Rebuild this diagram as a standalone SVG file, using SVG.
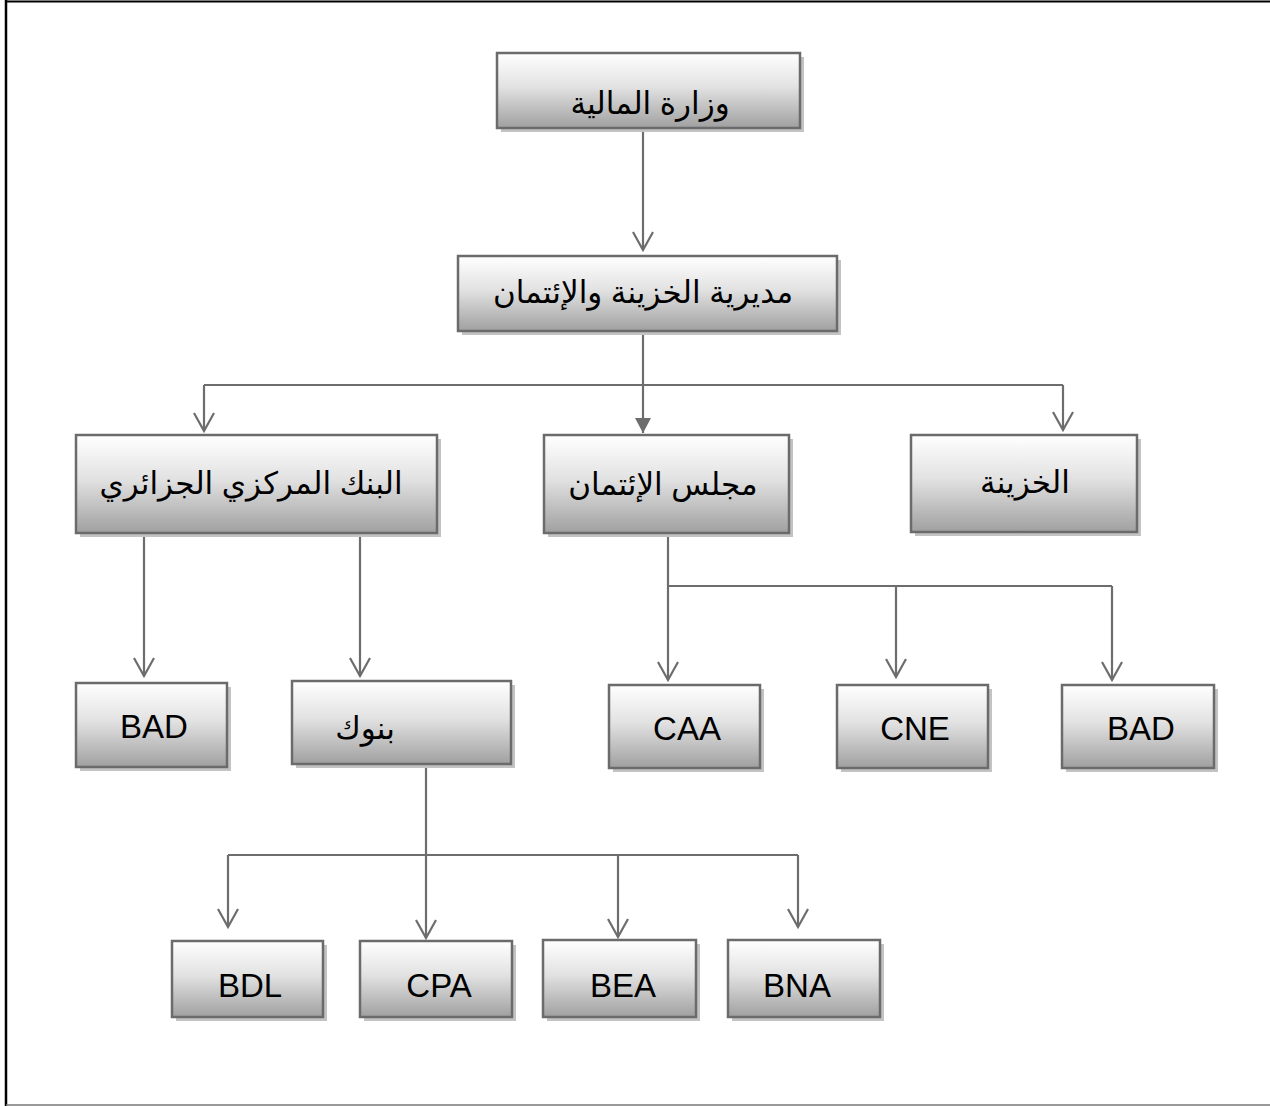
<svg xmlns="http://www.w3.org/2000/svg" width="1270" height="1106" viewBox="0 0 1270 1106">
<defs>
<linearGradient id="g" x1="0" y1="0" x2="0" y2="1">
<stop offset="0" stop-color="#ffffff"/>
<stop offset="0.45" stop-color="#e2e2e2"/>
<stop offset="1" stop-color="#a0a0a0"/>
</linearGradient>
<marker id="v" viewBox="-20 -12 22 24" refX="0" refY="0" markerWidth="22" markerHeight="24" markerUnits="userSpaceOnUse" orient="auto">
<path d="M-18,-10 L0,0 L-18,10" fill="none" stroke="#6d6d6d" stroke-width="2.2"/>
</marker>
<marker id="t" viewBox="-17 -9 18 18" refX="0" refY="0" markerWidth="18" markerHeight="18" markerUnits="userSpaceOnUse" orient="auto">
<path d="M-15,-8 L-15,8 L0,0 Z" fill="#6d6d6d"/>
</marker>
</defs>
<style>
.box{fill:url(#g);stroke:#6b6b6b;stroke-width:2.5}
.sh{fill:#c3c3c3}
.c{fill:none;stroke:#6d6d6d;stroke-width:2.2}
.ar{font-family:"Liberation Sans","DejaVu Sans",sans-serif;font-size:31px;fill:#000;text-anchor:middle}
.la{font-family:"Liberation Sans","DejaVu Sans",sans-serif;font-size:33px;fill:#000;text-anchor:middle}
</style>
<rect width="1270" height="1106" fill="#ffffff"/>
<line x1="6" y1="0" x2="6" y2="1106" stroke="#000" stroke-width="2.5"/>
<line x1="6" y1="1.5" x2="1270" y2="1.5" stroke="#000" stroke-width="2"/>
<line x1="6" y1="1105" x2="1270" y2="1105" stroke="#777" stroke-width="1.5"/>

<g id="connectors">
<path class="c" d="M643,129 V250" marker-end="url(#v)"/>
<path class="c" d="M643,331 V433" marker-end="url(#t)"/>
<path class="c" d="M204,385 H1063"/>
<path class="c" d="M204,385 V431" marker-end="url(#v)"/>
<path class="c" d="M1063,385 V430" marker-end="url(#v)"/>
<path class="c" d="M144,533 V676" marker-end="url(#v)"/>
<path class="c" d="M360,533 V676" marker-end="url(#v)"/>
<path class="c" d="M668,533 V680" marker-end="url(#v)"/>
<path class="c" d="M668,586 H1112"/>
<path class="c" d="M896,586 V677" marker-end="url(#v)"/>
<path class="c" d="M1112,586 V680" marker-end="url(#v)"/>
<path class="c" d="M426,764 V938" marker-end="url(#v)"/>
<path class="c" d="M228,855 H798"/>
<path class="c" d="M228,855 V927" marker-end="url(#v)"/>
<path class="c" d="M618,855 V937" marker-end="url(#v)"/>
<path class="c" d="M798,855 V927" marker-end="url(#v)"/>
</g>

<g id="n-wizara">
<rect class="sh" x="501" y="57" width="303" height="75"/>
<rect class="box" x="497" y="53" width="303" height="75"/>
<text class="ar" x="650" y="114" direction="rtl">وزارة المالية</text>
</g>
<g id="n-mudiriya">
<rect class="sh" x="462" y="260" width="379" height="75"/>
<rect class="box" x="458" y="256" width="379" height="75"/>
<text class="ar" x="643" y="303" direction="rtl">مديرية الخزينة والإئتمان</text>
</g>
<g id="n-bank-central">
<rect class="sh" x="80" y="439" width="361" height="98"/>
<rect class="box" x="76" y="435" width="361" height="98"/>
<text class="ar" x="251" y="494" direction="rtl">البنك المركزي الجزائري</text>
</g>
<g id="n-majlis">
<rect class="sh" x="548" y="439" width="245" height="98"/>
<rect class="box" x="544" y="435" width="245" height="98"/>
<text class="ar" x="663" y="495" direction="rtl">مجلس الإئتمان</text>
</g>
<g id="n-khazina">
<rect class="sh" x="915" y="439" width="226" height="97"/>
<rect class="box" x="911" y="435" width="226" height="97"/>
<text class="ar" x="1025" y="493" direction="rtl">الخزينة</text>
</g>
<g id="n-bad-left">
<rect class="sh" x="80" y="687" width="151" height="84"/>
<rect class="box" x="76" y="683" width="151" height="84"/>
<text class="la" x="154" y="738">BAD</text>
</g>
<g id="n-bunuk">
<rect class="sh" x="296" y="685" width="219" height="83"/>
<rect class="box" x="292" y="681" width="219" height="83"/>
<text class="ar" x="365" y="739" direction="rtl">بنوك</text>
</g>
<g id="n-caa">
<rect class="sh" x="613" y="689" width="151" height="83"/>
<rect class="box" x="609" y="685" width="151" height="83"/>
<text class="la" x="687" y="740">CAA</text>
</g>
<g id="n-cne">
<rect class="sh" x="841" y="689" width="151" height="83"/>
<rect class="box" x="837" y="685" width="151" height="83"/>
<text class="la" x="915" y="740">CNE</text>
</g>
<g id="n-bad-right">
<rect class="sh" x="1066" y="689" width="152" height="83"/>
<rect class="box" x="1062" y="685" width="152" height="83"/>
<text class="la" x="1141" y="740">BAD</text>
</g>
<g id="n-bdl">
<rect class="sh" x="176" y="945" width="151" height="76"/>
<rect class="box" x="172" y="941" width="151" height="76"/>
<text class="la" x="250" y="997">BDL</text>
</g>
<g id="n-cpa">
<rect class="sh" x="364" y="945" width="152" height="76"/>
<rect class="box" x="360" y="941" width="152" height="76"/>
<text class="la" x="439" y="997">CPA</text>
</g>
<g id="n-bea">
<rect class="sh" x="547" y="944" width="153" height="77"/>
<rect class="box" x="543" y="940" width="153" height="77"/>
<text class="la" x="623" y="997">BEA</text>
</g>
<g id="n-bna">
<rect class="sh" x="732" y="944" width="152" height="77"/>
<rect class="box" x="728" y="940" width="152" height="77"/>
<text class="la" x="797" y="997">BNA</text>
</g>
</svg>
